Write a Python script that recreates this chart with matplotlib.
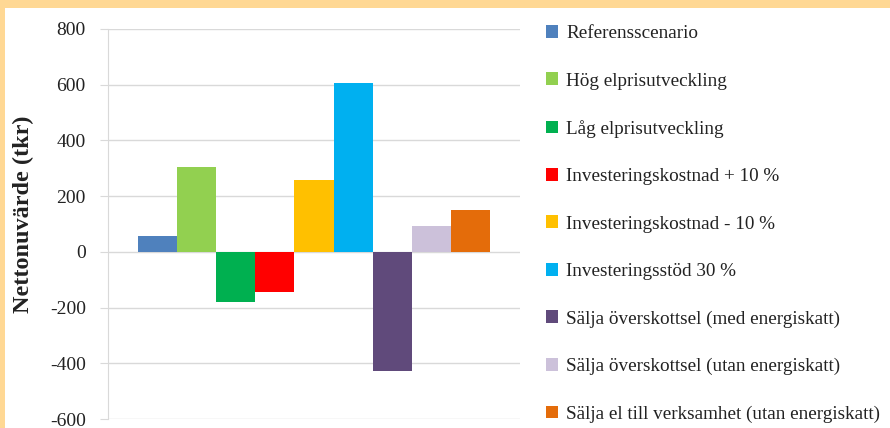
import matplotlib.pyplot as plt
from matplotlib.patches import Rectangle

# scenario names and net present value (tkr)
scenarier = ['Referensscenario',
             'Hög elprisutveckling',
             'Låg elprisutveckling',
             'Investeringskostnad + 10 %',
             'Investeringskostnad - 10 %',
             'Investeringsstöd 30 %',
             'Sälja överskottsel (med energiskatt)',
             'Sälja överskottsel (utan energiskatt)',
             'Sälja el till verksamhet (utan energiskatt)']
varden = [57, 303, -180, -145, 258, 606, -426, 94, 152]
farger = ['#4F81BD', '#92D050', '#00B050', '#FF0000', '#FFC000',
          '#00B0F0', '#604A7B', '#CCC1DA', '#E46C0A']
yticks = [-600, -400, -200, 0, 200, 400, 600, 800]

plt.rcParams['font.family'] = ['Liberation Serif', 'DejaVu Serif']

fig = plt.figure(figsize=(8.9, 4.28), dpi=100)
fig.patch.set_facecolor('white')

# orange frame (top and left)
fig.patches.append(Rectangle((0, 1 - 8/428), 1, 8/428, transform=fig.transFigure,
                             facecolor='#FFD894', edgecolor='none', zorder=0))
fig.patches.append(Rectangle((0, 0), 5/890, 1, transform=fig.transFigure,
                             facecolor='#FFD894', edgecolor='none', zorder=0))

ax = fig.add_axes([108/890, 1 - 419/428, 412/890, 390/428])

bars = []
for i, (v, c, n) in enumerate(zip(varden, farger, scenarier)):
    b = ax.bar(i, v, width=1.0, color=c, label=n, zorder=3)
    bars.append(b)

ax.set_xlim(-0.5 - 0.76, len(varden) - 0.5 + 0.76)
ax.set_ylim(-600, 800)
ax.set_yticks(yticks)
ax.set_yticklabels([str(t) for t in yticks], fontsize=14, color='#222222')
ax.set_xticks([])
ax.yaxis.grid(True, color='#D9D9D9', linewidth=1, zorder=0)
ax.tick_params(axis='y', length=6, color='#D9D9D9', pad=10)

for s in ['top', 'right', 'bottom']:
    ax.spines[s].set_visible(False)
ax.spines['left'].set_color('#D9D9D9')

fig.text(23/890, 1 - 214/428, 'Nettonuvärde (tkr)', rotation=90, fontsize=17.5,
         fontweight='bold', color='#222222', ha='center', va='center')

leg = fig.legend(handles=bars, loc='upper left', bbox_to_anchor=(546/890, 1 - 25/428),
                 frameon=False, fontsize=13.8, handlelength=0.65, handleheight=0.65,
                 handletextpad=0.4, labelspacing=1.58, borderaxespad=0, borderpad=0)
for t in leg.get_texts():
    t.set_color('#222222')

plt.savefig('out.png', dpi=100)
